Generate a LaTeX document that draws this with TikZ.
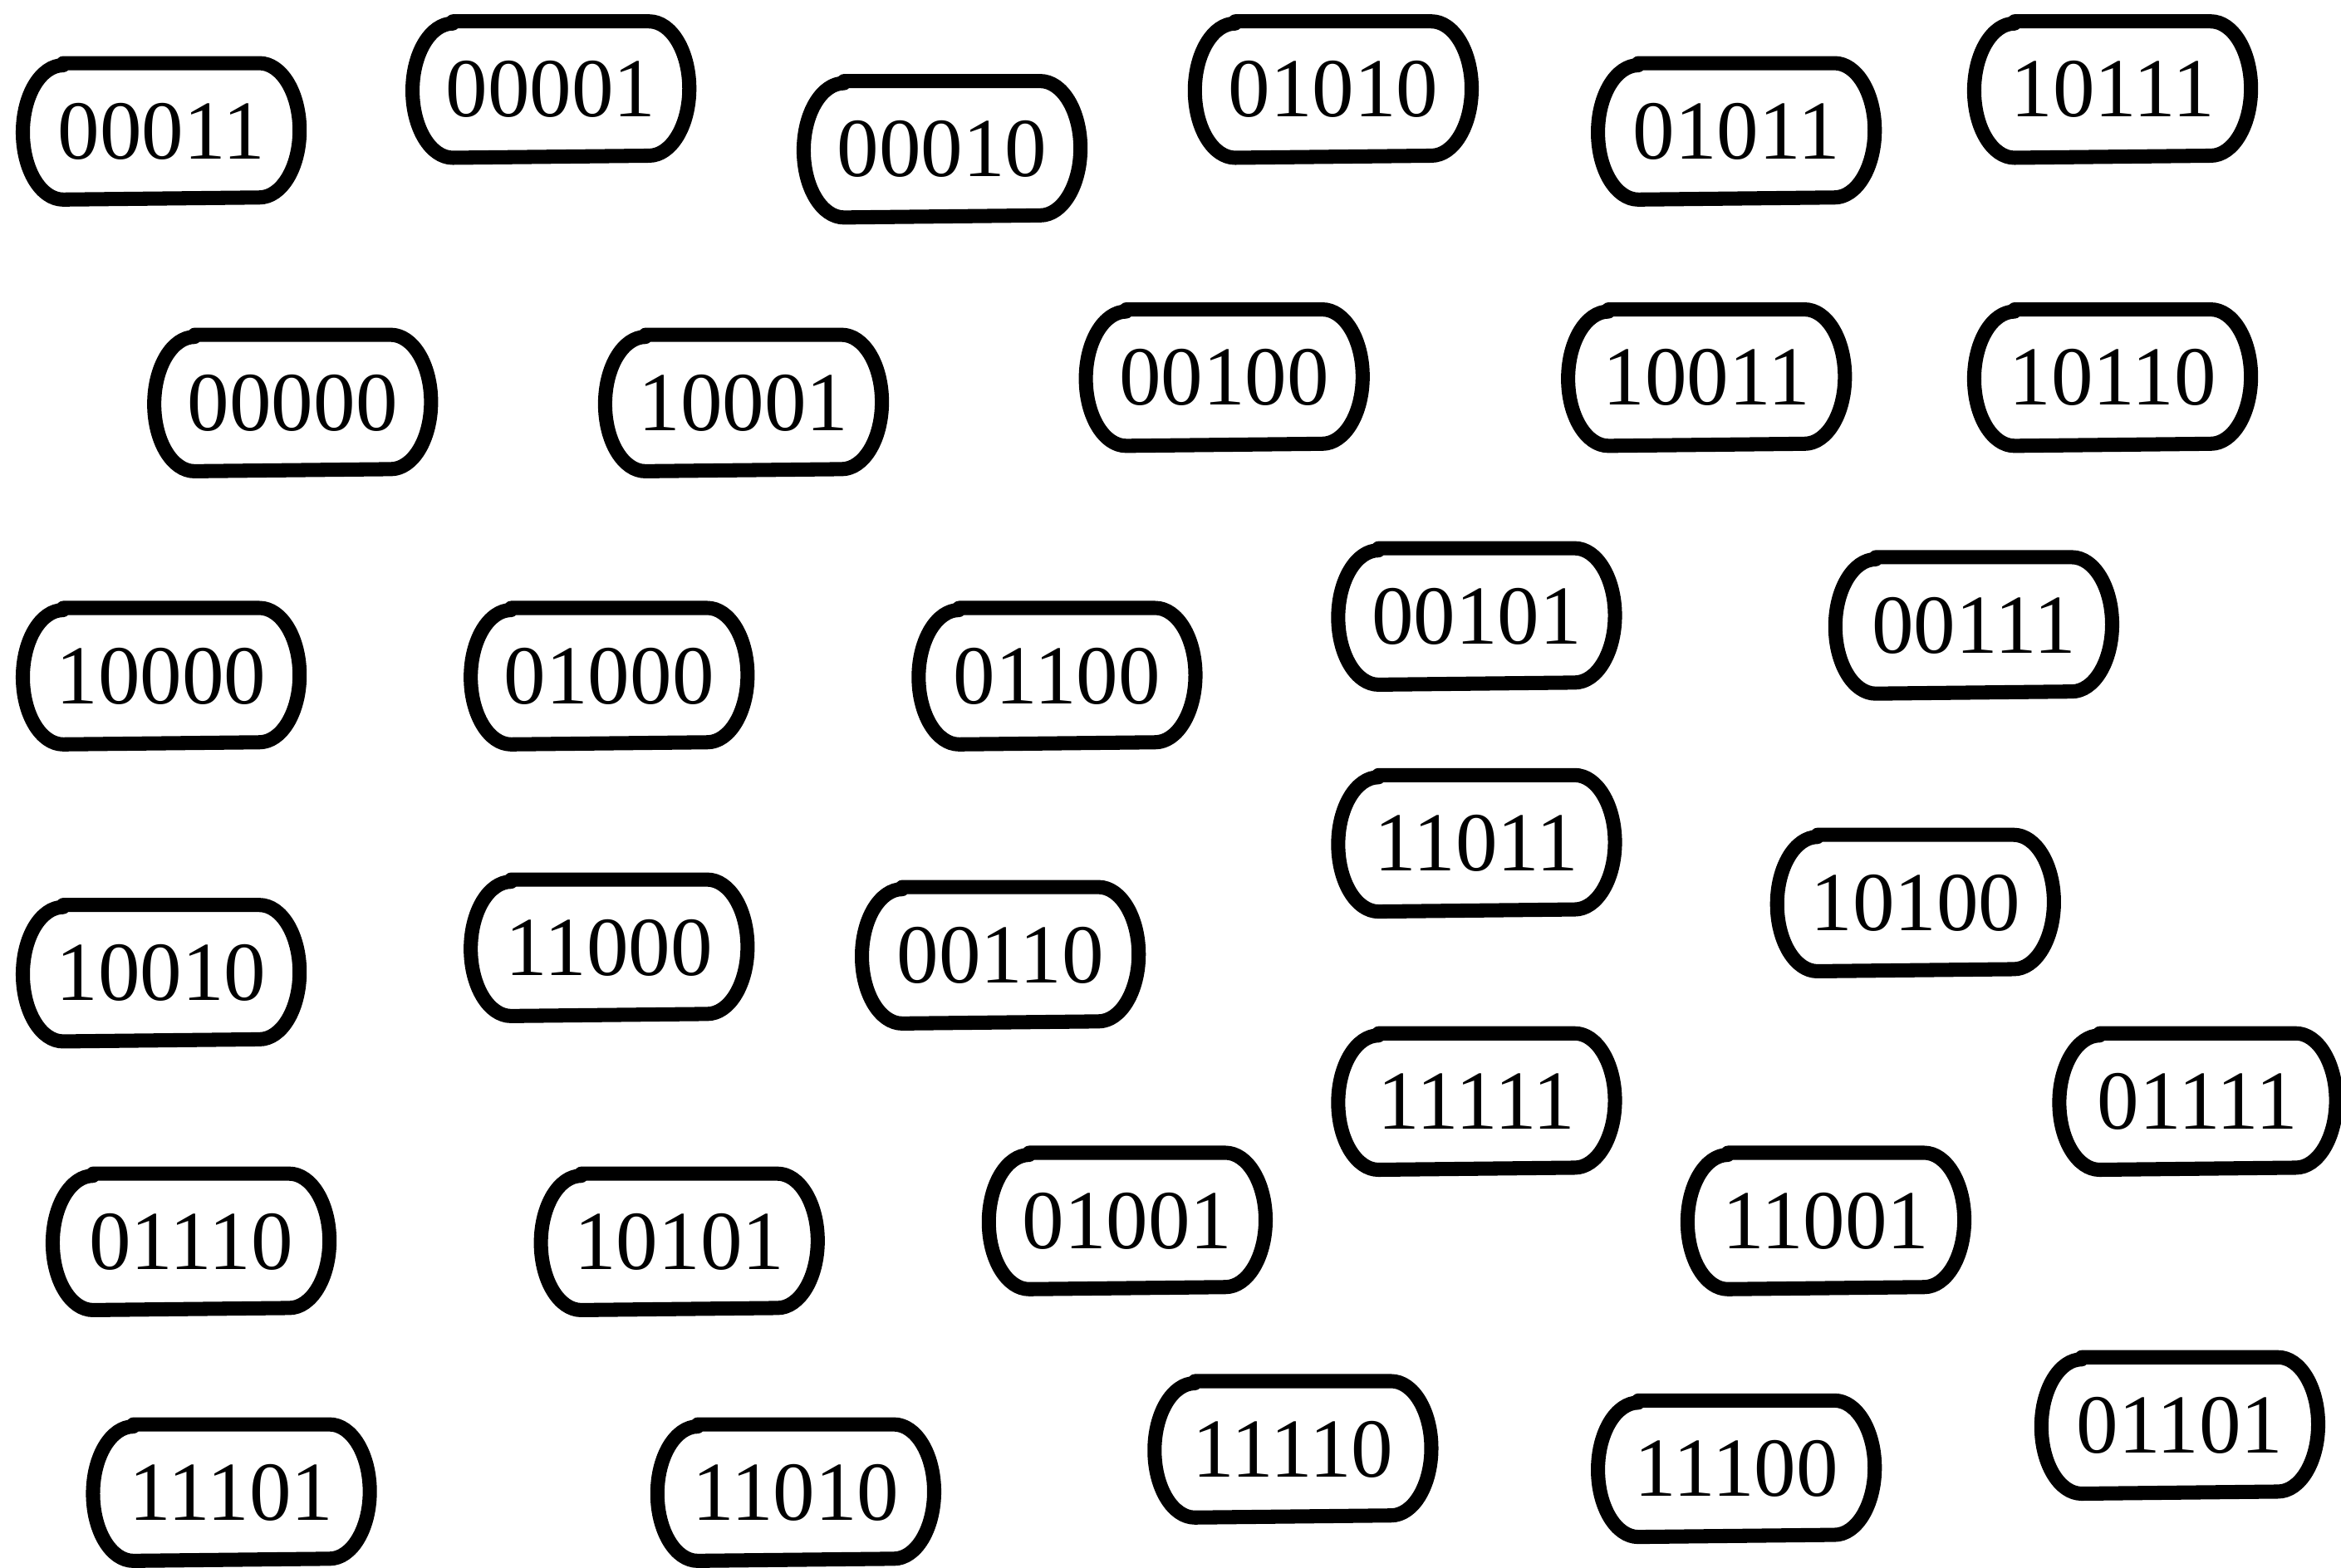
\documentclass[tikz,border=0pt]{standalone}
\usepackage{fontspec}
\setmainfont{Liberation Serif}
\usepackage{tikz}
\usetikzlibrary{positioning}

% outline of a bit string box: straight top and bottom, elliptic ends
\newcommand{\bitoutline}[1]{%
  \draw[line width=2.7pt, line join=round]
    ([xshift=0.27cm]#1.north west) -- ([xshift=-0.27cm]#1.north east)
    arc[start angle=90, end angle=-90, x radius=0.27cm, y radius=0.45cm]
    -- ([xshift=0.27cm]#1.south west)
    arc[start angle=270, end angle=90, x radius=0.27cm, y radius=0.45cm]
    -- cycle;}

\begin{document}
\begin{tikzpicture}[
  bitbox/.style={inner sep=0pt, minimum width=1.84cm, minimum height=0.9cm,
                 font=\fontsize{16}{19}\selectfont,
                 append after command={\pgfextra{\bitoutline{\tikzlastnode}}}}
]
\useasboundingbox (0,0) rectangle (15.68,-10.5);

% Row 1
\node[bitbox] (b00011) at (1.08,-0.88) {00011};
\node[bitbox] (b00001) at (3.69,-0.60) {00001};
\node[bitbox] (b00010) at (6.31,-1.00) {00010};
\node[bitbox] (b01010) at (8.93,-0.60) {01010};
\node[bitbox] (b01011) at (11.63,-0.88) {01011};
\node[bitbox] (b10111) at (14.15,-0.60) {10111};

% Row 2
\node[bitbox] (b00000) at (1.96,-2.70) {00000};
\node[bitbox] (b10001) at (4.98,-2.70) {10001};
\node[bitbox] (b00100) at (8.20,-2.53) {00100};
\node[bitbox] (b10011) at (11.43,-2.53) {10011};
\node[bitbox] (b10110) at (14.15,-2.53) {10110};

% Row 3
\node[bitbox] (b10000) at (1.08,-4.53) {10000};
\node[bitbox] (b01000) at (4.08,-4.53) {01000};
\node[bitbox] (b01100) at (7.08,-4.53) {01100};
\node[bitbox] (b00101) at (9.89,-4.13) {00101};
\node[bitbox] (b00111) at (13.22,-4.19) {00111};

% Row 4
\node[bitbox] (b11011) at (9.89,-5.65) {11011};
\node[bitbox] (b10100) at (12.83,-6.05) {10100};
\node[bitbox] (b10010) at (1.08,-6.52) {10010};
\node[bitbox] (b11000) at (4.08,-6.35) {11000};
\node[bitbox] (b00110) at (6.70,-6.40) {00110};

% Row 5
\node[bitbox] (b11111) at (9.89,-7.38) {11111};
\node[bitbox] (b01111) at (14.72,-7.38) {01111};
\node[bitbox] (b01110) at (1.28,-8.32) {01110};
\node[bitbox] (b10101) at (4.55,-8.32) {10101};
\node[bitbox] (b01001) at (7.55,-8.18) {01001};
\node[bitbox] (b11001) at (12.23,-8.18) {11001};

% Row 6
\node[bitbox] (b11101) at (1.55,-10.00) {11101};
\node[bitbox] (b11010) at (5.33,-10.00) {11010};
\node[bitbox] (b11110) at (8.66,-9.71) {11110};
\node[bitbox] (b11100) at (11.63,-9.84) {11100};
\node[bitbox] (b01101) at (14.60,-9.55) {01101};

\end{tikzpicture}
\end{document}
